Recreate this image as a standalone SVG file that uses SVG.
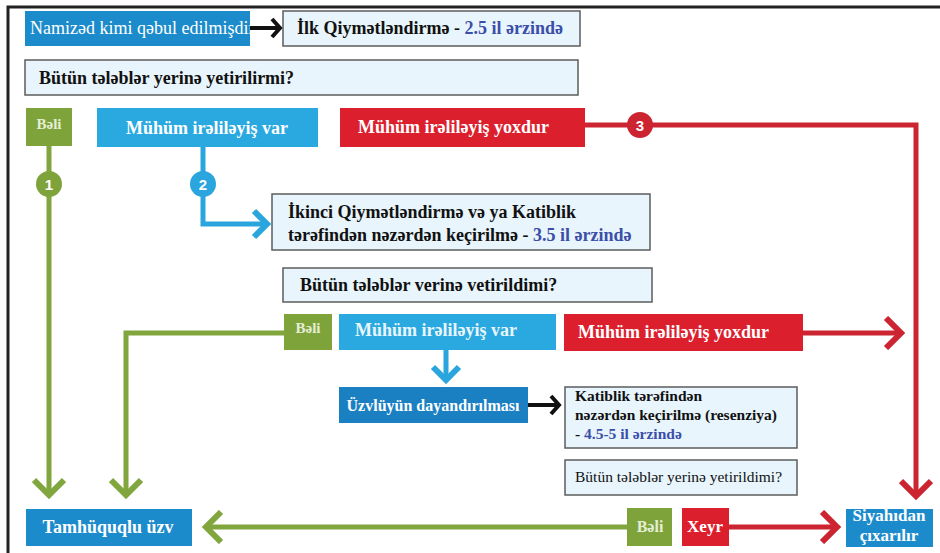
<svg xmlns="http://www.w3.org/2000/svg" width="940" height="553" viewBox="0 0 940 553">
<style>
.dark{fill:#1c8bcb;}
.lite{fill:#2aa9e0;}
.red{fill:#dc1f2d;}
.grn{fill:#7fa33b;}
.pale{fill:#e8f5fc;stroke:#5c5c5c;stroke-width:1.5;}
.lg{fill:none;stroke:#80a63d;stroke-width:5;}
.lr{fill:none;stroke:#cc2430;stroke-width:5;}
.lb{fill:none;stroke:#2aa5dd;stroke-width:5;}
.lk{fill:none;stroke:#111111;stroke-width:4;}
.num{font-weight:bold;font-size:15px;fill:#ffffff;text-anchor:middle;}
</style>
<defs>
<marker id="aG" markerUnits="userSpaceOnUse" viewBox="0 0 30 34" markerWidth="30" markerHeight="34" refX="22" refY="17" orient="auto"><path d="M6,2 L21,17 L6,32" fill="none" stroke="#80a63d" stroke-width="6"/></marker>
<marker id="aR" markerUnits="userSpaceOnUse" viewBox="0 0 30 34" markerWidth="30" markerHeight="34" refX="22" refY="17" orient="auto"><path d="M6,2 L21,17 L6,32" fill="none" stroke="#cc2430" stroke-width="6"/></marker>
<marker id="aB" markerUnits="userSpaceOnUse" viewBox="0 0 30 34" markerWidth="30" markerHeight="34" refX="22" refY="17" orient="auto"><path d="M8,4 L21,17 L8,30" fill="none" stroke="#2aa5dd" stroke-width="6"/></marker>
<marker id="aK" markerUnits="userSpaceOnUse" viewBox="0 0 20 24" markerWidth="20" markerHeight="24" refX="15" refY="12" orient="auto"><path d="M6,3 L14,12 L6,21" fill="none" stroke="#111111" stroke-width="4"/></marker>
<clipPath id="cNam"><rect x="25" y="11" width="225" height="35"/></clipPath>
<clipPath id="cSiy"><rect x="846" y="509" width="87" height="38"/></clipPath>
</defs>
<path d="M8,553 V7 H940" fill="none" stroke="#222222" stroke-width="3"/>

<g id="connectors">
<path class="lk" d="M250,28 H281" marker-end="url(#aK)"/>
<path class="lg" d="M49,145 V496" marker-end="url(#aG)"/>
<path class="lb" d="M203,147 V224 H268" marker-end="url(#aB)"/>
<path class="lr" d="M585,125 H916 V497" marker-end="url(#aR)"/>
<path class="lg" d="M284,333 H126 V496" marker-end="url(#aG)"/>
<path class="lb" d="M446,350 V381" marker-end="url(#aB)"/>
<path class="lr" d="M803,333 H902" marker-end="url(#aR)"/>
<path class="lk" d="M528,405 H560" marker-end="url(#aK)"/>
<path class="lg" d="M627,527 H205" marker-end="url(#aG)"/>
<path class="lr" d="M729,527 H838" marker-end="url(#aR)"/>
<g id="badge1"><circle cx="49" cy="184" r="13" fill="#7fa33b"/><text class="num" style="font-family:'Liberation Sans',Arial,sans-serif" x="49" y="189.5">1</text></g>
<g id="badge2"><circle cx="203" cy="184" r="13" fill="#2aa5dd"/><text class="num" style="font-family:'Liberation Sans',Arial,sans-serif" x="203" y="189.5">2</text></g>
<g id="badge3"><circle cx="640" cy="125" r="13" fill="#cc2430"/><text class="num" style="font-family:'Liberation Sans',Arial,sans-serif" x="640" y="130.5">3</text></g>
</g>

<g id="n_namized"><rect class="dark" x="25" y="11" width="225" height="35"/><text style="font-family:'Liberation Serif',serif" fill="#ffffff" x="30" y="34" font-size="18" clip-path="url(#cNam)">Namizəd kimi qəbul edilmişdir</text></g>
<g id="n_ilk"><rect class="pale" x="283" y="11" width="297" height="35"/><text style="font-family:'Liberation Serif',serif" font-weight="bold" fill="#111111" x="297" y="34" font-size="18">İlk Qiymətləndirmə - <tspan fill="#3b4ea8">2.5 il ərzində</tspan></text></g>
<g id="n_butun1"><rect class="pale" x="25" y="60" width="553" height="35"/><text style="font-family:'Liberation Serif',serif" font-weight="bold" fill="#111111" x="39" y="84" font-size="18">Bütün tələblər yerinə yetirilirmi?</text></g>
<g id="n_beli1"><rect class="grn" x="26" y="108" width="46" height="38"/><text style="font-family:'Liberation Serif',serif" font-weight="bold" x="49" y="129" font-size="15" fill="#e4eed4" text-anchor="middle">Bəli</text></g>
<g id="n_var1"><rect class="lite" x="97" y="108" width="221" height="39"/><text style="font-family:'Liberation Serif',serif" font-weight="bold" fill="#ffffff" x="207" y="134" font-size="18" text-anchor="middle">Mühüm irəliləyiş var</text></g>
<g id="n_yox1"><rect class="red" x="340" y="108" width="245" height="39"/><text style="font-family:'Liberation Serif',serif" font-weight="bold" fill="#ffffff" x="358" y="133" font-size="18">Mühüm irəliləyiş yoxdur</text></g>
<g id="n_ikinci"><rect class="pale" x="272" y="194" width="378" height="56"/><text style="font-family:'Liberation Serif',serif" font-weight="bold" fill="#111111" x="288" y="218" font-size="18">İkinci Qiymətləndirmə  və ya Katiblik</text><text style="font-family:'Liberation Serif',serif" font-weight="bold" fill="#111111" x="288" y="241" font-size="18">tərəfindən nəzərdən keçirilmə  - <tspan fill="#3b4ea8">3.5 il ərzində</tspan></text></g>
<g id="n_butun2"><rect class="pale" x="283" y="268" width="369" height="34"/><text style="font-family:'Liberation Serif',serif" font-weight="bold" fill="#111111" x="300" y="291" font-size="18">Bütün tələblər verinə vetirildimi?</text></g>
<g id="n_beli2"><rect class="grn" x="284" y="314" width="48" height="36"/><text style="font-family:'Liberation Serif',serif" font-weight="bold" x="308" y="333" font-size="15" fill="#e4eed4" text-anchor="middle">Bəli</text></g>
<g id="n_var2"><rect class="lite" x="339" y="314" width="217" height="36"/><text style="font-family:'Liberation Serif',serif" font-weight="bold" x="355" y="336" font-size="18" fill="#e8f6fc">Mühüm irəliləyiş var</text></g>
<g id="n_yox2"><rect class="red" x="564" y="314" width="239" height="37"/><text style="font-family:'Liberation Serif',serif" font-weight="bold" fill="#ffffff" x="578" y="338" font-size="18">Mühüm irəliləyiş yoxdur</text></g>
<g id="n_uzv"><rect x="339" y="387" width="189" height="36" fill="#1a80c2"/><text style="font-family:'Liberation Serif',serif" font-weight="bold" fill="#ffffff" x="433" y="411" font-size="16" text-anchor="middle">Üzvlüyün dayandırılması</text></g>
<g id="n_katib"><rect class="pale" x="565" y="387" width="232" height="61"/><text style="font-family:'Liberation Serif',serif" font-weight="bold" fill="#111111" x="575" y="401" font-size="15.5">Katiblik tərəfindən</text><text style="font-family:'Liberation Serif',serif" font-weight="bold" fill="#111111" x="575" y="420" font-size="15.5">nəzərdən keçirilmə (resenziya)</text><text style="font-family:'Liberation Serif',serif" font-weight="bold" fill="#111111" x="575" y="439" font-size="15.5">- <tspan fill="#3b4ea8">4.5-5  il ərzində</tspan></text></g>
<g id="n_butun3"><rect class="pale" x="565" y="460" width="232" height="35"/><text style="font-family:'Liberation Serif',serif" fill="#111111" x="575" y="482" font-size="15.5">Bütün tələblər yerinə yetirildimi?</text></g>
<g id="n_tam"><rect class="dark" x="26" y="509" width="166" height="37"/><text style="font-family:'Liberation Serif',serif" font-weight="bold" fill="#ffffff" x="108" y="533" font-size="18" text-anchor="middle">Tamhüquqlu üzv</text></g>
<g id="n_beli3"><rect class="grn" x="627" y="508" width="45" height="38"/><text style="font-family:'Liberation Serif',serif" font-weight="bold" x="650" y="532" font-size="16" fill="#e4eed4" text-anchor="middle">Bəli</text></g>
<g id="n_xeyr"><rect class="red" x="682" y="508" width="47" height="38"/><text style="font-family:'Liberation Serif',serif" font-weight="bold" fill="#ffffff" x="705" y="532" font-size="17" text-anchor="middle">Xeyr</text></g>
<g id="n_siyahi"><rect class="dark" x="846" y="509" width="87" height="38"/><g clip-path="url(#cSiy)"><text style="font-family:'Liberation Serif',serif" font-weight="bold" fill="#ffffff" x="889" y="521" font-size="17" text-anchor="middle">Siyahıdan</text><text style="font-family:'Liberation Serif',serif" font-weight="bold" fill="#ffffff" x="889" y="541" font-size="17" text-anchor="middle">çıxarılır</text></g></g>
</svg>
